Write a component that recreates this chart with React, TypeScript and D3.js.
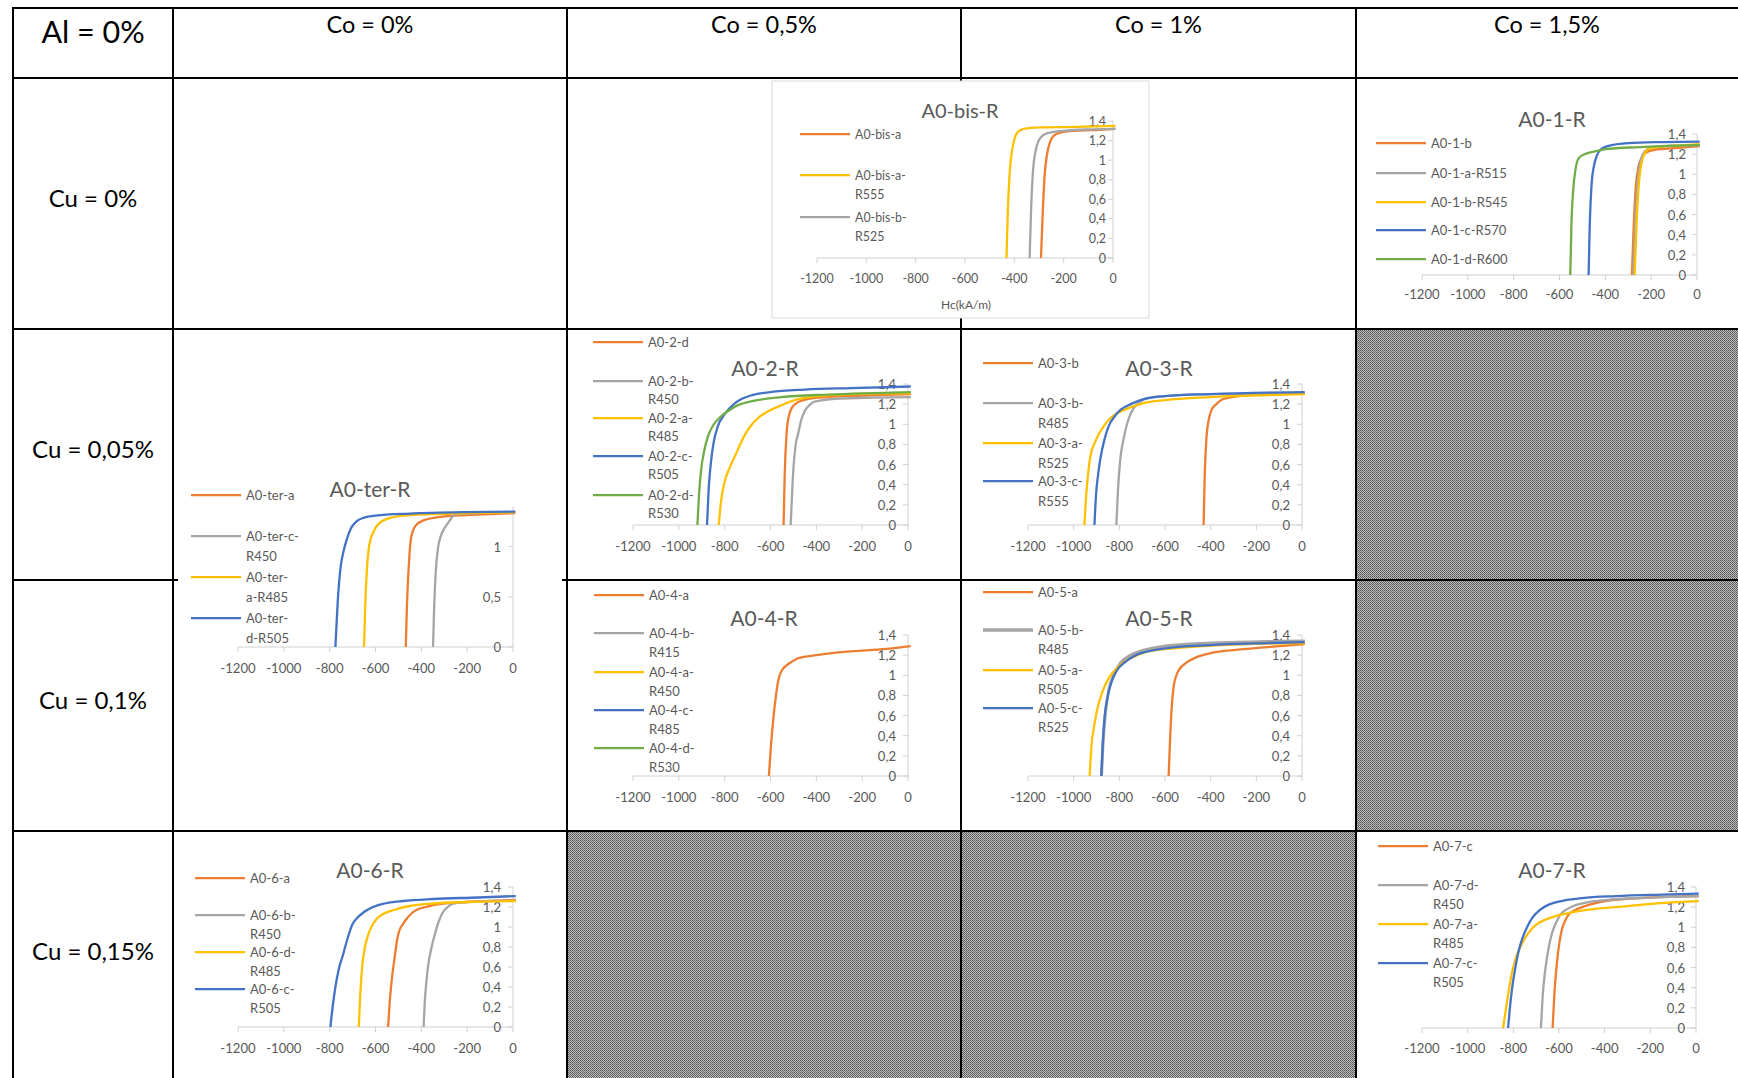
import React from 'react';
import * as d3 from 'd3';

const W = 1738, H = 1078;
const FONT = "Lato, 'Open Sans', sans-serif";

const cornerLabel = 'Al = 0%';
const colLabels = ['Co = 0%', 'Co = 0,5%', 'Co = 1%', 'Co = 1,5%'];
const rowLabels = ['Cu = 0%', 'Cu = 0,05%', 'Cu = 0,1%', 'Cu = 0,15%'];

const xTicks = [-1200, -1000, -800, -600, -400, -200, 0];
const yTicks = [0, 0.2, 0.4, 0.6, 0.8, 1, 1.2, 1.4];
const yTicksTer = [0, 0.5, 1];

// ---- A0-bis-R
const bisA = [[-292,0],[-285,0.45],[-277,0.85],[-268,1.05],[-256,1.18],[-240,1.25],[-215,1.28],[-150,1.30],[-50,1.31],[10,1.32]];
const bisAR555 = [[-432,0],[-426,0.5],[-418,0.9],[-409,1.1],[-398,1.23],[-385,1.29],[-362,1.32],[-300,1.335],[-150,1.34],[10,1.35]];
const bisBR525 = [[-338,0],[-332,0.5],[-324,0.9],[-315,1.08],[-303,1.19],[-285,1.25],[-260,1.28],[-200,1.30],[-80,1.315],[10,1.32]];
const legendBis = [['A0-bis-a'], ['A0-bis-a-', 'R555'], ['A0-bis-b-', 'R525']];

// ---- A0-1-R
const a1b = [[-284,0],[-276,0.5],[-266,0.9],[-255,1.08],[-240,1.17],[-220,1.22],[-180,1.245],[-100,1.26],[12,1.28]];
const a1aR515 = [[-278,0],[-270,0.5],[-260,0.9],[-249,1.1],[-236,1.2],[-215,1.25],[-170,1.27],[-80,1.285],[12,1.29]];
const a1bR545 = [[-272,0],[-264,0.5],[-254,0.9],[-243,1.1],[-230,1.2],[-212,1.25],[-170,1.27],[-80,1.285],[12,1.3]];
const a1cR570 = [[-473,0],[-468,0.5],[-460,0.9],[-450,1.08],[-436,1.19],[-418,1.25],[-390,1.28],[-300,1.31],[-150,1.32],[12,1.325]];
const a1dR600 = [[-553,0],[-548,0.5],[-540,0.85],[-530,1.05],[-516,1.16],[-490,1.2],[-440,1.23],[-400,1.25],[-250,1.27],[-100,1.285],[12,1.29]];
const legend1 = [['A0-1-b'], ['A0-1-a-R515'], ['A0-1-b-R545'], ['A0-1-c-R570'], ['A0-1-d-R600']];

// ---- A0-ter-R
const terA = [[-468,0],[-463,0.4],[-455,0.8],[-447,1.05],[-438,1.15],[-425,1.21],[-393,1.26],[-305,1.30],[-200,1.315],[-100,1.325],[10,1.335]];
const terCR450 = [[-349,0],[-344,0.4],[-337,0.75],[-327,0.99],[-316,1.1],[-305,1.16],[-276,1.26],[-255,1.32],[-150,1.335],[10,1.345]];
const terAR485 = [[-650,0],[-645,0.4],[-638,0.75],[-626,1.03],[-604,1.17],[-567,1.26],[-480,1.31],[-350,1.325],[-200,1.335],[10,1.345]];
const terDR505 = [[-775,0],[-765,0.45],[-752,0.8],[-740,0.95],[-727,1.06],[-708,1.18],[-684,1.25],[-650,1.29],[-600,1.31],[-450,1.33],[-200,1.345],[10,1.35]];
const legendTer = [['A0-ter-a'], ['A0-ter-c-', 'R450'], ['A0-ter-', 'a-R485'], ['A0-ter-', 'd-R505']];

// ---- A0-2-R
const a2d = [[-543,0],[-538,0.5],[-530,0.9],[-520,1.08],[-505,1.17],[-480,1.22],[-440,1.25],[-350,1.27],[-200,1.285],[12,1.3]];
const a2bR450 = [[-512,0],[-503,0.45],[-490,0.8],[-480,0.9],[-465,1.05],[-451,1.13],[-430,1.19],[-407,1.225],[-300,1.255],[-150,1.265],[12,1.27]];
const a2aR485 = [[-826,0],[-815,0.25],[-800,0.43],[-778,0.57],[-756,0.68],[-713,0.89],[-684,0.99],[-655,1.06],[-610,1.13],[-567,1.175],[-480,1.25],[-335,1.29],[-150,1.305],[12,1.31]];
const a2cR505 = [[-877,0],[-870,0.35],[-860,0.62],[-848,0.82],[-830,0.98],[-800,1.1],[-760,1.2],[-727,1.25],[-680,1.29],[-600,1.32],[-450,1.345],[-250,1.36],[12,1.375]];
const a2dR530 = [[-919,0],[-912,0.3],[-902,0.56],[-888,0.75],[-873,0.88],[-850,0.99],[-815,1.08],[-780,1.14],[-742,1.19],[-680,1.23],[-553,1.27],[-350,1.295],[-150,1.31],[12,1.32]];
const legend2 = [['A0-2-d'], ['A0-2-b-', 'R450'], ['A0-2-a-', 'R485'], ['A0-2-c-', 'R505'], ['A0-2-d-', 'R530']];

// ---- A0-3-R
const a3b = [[-431,0],[-426,0.5],[-418,0.88],[-408,1.05],[-395,1.15],[-380,1.19],[-355,1.24],[-328,1.26],[-250,1.285],[-120,1.3],[12,1.31]];
const a3bR485 = [[-813,0],[-806,0.35],[-796,0.65],[-781,0.86],[-760,1.05],[-737,1.16],[-710,1.22],[-679,1.26],[-600,1.28],[-400,1.3],[-150,1.305],[12,1.31]];
const a3aR525 = [[-953,0],[-945,0.3],[-935,0.55],[-927,0.68],[-905,0.83],[-869,0.98],[-840,1.06],[-810,1.11],[-760,1.16],[-693,1.21],[-600,1.24],[-400,1.27],[-150,1.29],[12,1.30]];
const a3cR555 = [[-909,0],[-902,0.3],[-893,0.5],[-883,0.66],[-865,0.85],[-847,0.98],[-820,1.08],[-796,1.14],[-750,1.2],[-693,1.25],[-600,1.28],[-400,1.3],[-150,1.315],[12,1.32]];
const legend3 = [['A0-3-b'], ['A0-3-b-', 'R485'], ['A0-3-a-', 'R525'], ['A0-3-c-', 'R555']];

// ---- A0-4-R
const a4a = [[-607,0],[-598,0.3],[-588,0.56],[-576,0.8],[-566,0.95],[-550,1.05],[-529,1.1],[-500,1.145],[-478,1.17],[-400,1.2],[-332,1.22],[-200,1.245],[-80,1.265],[12,1.29]];
const a4bR415: number[][] = [];
const a4aR450: number[][] = [];
const a4cR485: number[][] = [];
const a4dR530: number[][] = [];
const legend4 = [['A0-4-a'], ['A0-4-b-', 'R415'], ['A0-4-a-', 'R450'], ['A0-4-c-', 'R485'], ['A0-4-d-', 'R530']];

// ---- A0-5-R
const a5a = [[-584,0],[-578,0.35],[-570,0.7],[-562,0.89],[-550,1.0],[-540,1.05],[-515,1.11],[-489,1.15],[-450,1.19],[-401,1.22],[-300,1.25],[-150,1.28],[12,1.31]];
const a5bR485 = [[-878,0],[-872,0.3],[-862,0.6],[-847,0.85],[-825,1.0],[-796,1.12],[-750,1.2],[-693,1.25],[-600,1.29],[-400,1.32],[-150,1.335],[12,1.34]];
const a5aR505 = [[-930,0],[-922,0.3],[-910,0.5],[-898,0.65],[-875,0.83],[-847,0.97],[-815,1.06],[-781,1.13],[-730,1.19],[-679,1.235],[-550,1.27],[-350,1.3],[-150,1.315],[12,1.32]];
const a5cR525 = [[-879,0],[-873,0.3],[-864,0.6],[-854,0.755],[-835,0.93],[-810,1.05],[-775,1.13],[-737,1.19],[-680,1.235],[-591,1.27],[-400,1.3],[-150,1.32],[12,1.33]];
const legend5 = [['A0-5-a'], ['A0-5-b-', 'R485'], ['A0-5-a-', 'R505'], ['A0-5-c-', 'R525']];

// ---- A0-6-R
const a6a = [[-545,0],[-538,0.25],[-530,0.45],[-515,0.72],[-505,0.88],[-495,0.97],[-480,1.03],[-465,1.08],[-440,1.14],[-422,1.17],[-380,1.2],[-335,1.225],[-200,1.25],[12,1.27]];
const a6bR450 = [[-390,0],[-385,0.25],[-378,0.45],[-371,0.6],[-355,0.8],[-342,0.92],[-325,1.05],[-305,1.15],[-285,1.2],[-262,1.235],[-200,1.25],[-100,1.26],[12,1.265]];
const a6dR485 = [[-673,0],[-667,0.3],[-660,0.55],[-652,0.72],[-635,0.9],[-618,1.0],[-595,1.08],[-567,1.13],[-520,1.17],[-451,1.21],[-350,1.235],[-200,1.25],[12,1.26]];
const a6cR505 = [[-797,0],[-787,0.2],[-775,0.4],[-760,0.58],[-742,0.72],[-720,0.9],[-700,1.03],[-684,1.08],[-650,1.15],[-611,1.2],[-560,1.235],[-480,1.26],[-350,1.28],[-150,1.295],[12,1.31]];
const legend6 = [['A0-6-a'], ['A0-6-b-', 'R450'], ['A0-6-d-', 'R485'], ['A0-6-c-', 'R505']];

// ---- A0-7-R
const a7c = [[-628,0],[-620,0.35],[-609,0.65],[-598,0.85],[-587,0.98],[-572,1.07],[-558,1.125],[-530,1.17],[-499,1.2],[-450,1.235],[-397,1.26],[-250,1.29],[-100,1.305],[12,1.31]];
const a7dR450 = [[-679,0],[-672,0.3],[-660,0.58],[-645,0.8],[-631,0.94],[-612,1.05],[-594,1.125],[-565,1.18],[-528,1.22],[-470,1.25],[-397,1.27],[-200,1.295],[12,1.31]];
const a7aR485 = [[-845,0],[-835,0.15],[-820,0.37],[-806,0.55],[-785,0.72],[-762,0.84],[-735,0.94],[-704,1.02],[-660,1.075],[-616,1.11],[-550,1.145],[-470,1.175],[-300,1.21],[-150,1.24],[12,1.26]];
const a7cR505 = [[-823,0],[-815,0.2],[-805,0.4],[-791,0.6],[-776,0.77],[-762,0.88],[-740,1.0],[-718,1.09],[-685,1.17],[-645,1.225],[-590,1.26],[-499,1.29],[-350,1.31],[-150,1.325],[12,1.335]];
const legend7 = [['A0-7-c'], ['A0-7-d-', 'R450'], ['A0-7-a-', 'R485'], ['A0-7-c-', 'R505']];

const ORANGE = '#ED7D31', GRAY = '#A5A5A5', YELLOW = '#FFC000', BLUE = '#4472C4', GREEN = '#70AD47';
const C5 = [ORANGE, GRAY, YELLOW, BLUE, GREEN];
const TXT = '#595959';
const AXIS = '#D0D0D0';

const charts = [
  { title: 'A0-bis-R', series: [bisA, bisAR555, bisBR525], colors: [ORANGE, YELLOW, GRAY], legend: legendBis,
    x0: 817, x1: 1113, yB: 258, yT: 121, ticks: yTicks, tx: 960, ty: 110, lx: 800, ly: [134, 175, 217], lh: 19.5,
    xly: 278, gap: 7, box: [772, 81, 1149, 318], axisTitle: 'Hc(kA/m)', atY: 304, fs: 1 },
  { title: 'A0-1-R', series: [a1b, a1aR515, a1bR545, a1cR570, a1dR600], colors: C5, legend: legend1,
    x0: 1422, x1: 1697, yB: 275, yT: 134, ticks: yTicks, tx: 1552, ty: 118, lx: 1376, ly: [143, 173, 202, 230, 259], lh: 19,
    xly: 294, gap: 11, fs: 1.05 },
  { title: 'A0-ter-R', series: [terA, terCR450, terAR485, terDR505], colors: C5, legend: legendTer,
    x0: 238, x1: 513, yB: 647, yT: 506.6, ticks: yTicksTer, tx: 370, ty: 488, lx: 191, ly: [495, 536, 577, 618], lh: 20,
    xly: 668, gap: 12, bg: [178, 468, 562, 690], fs: 1.05 },
  { title: 'A0-2-R', series: [a2d, a2bR450, a2aR485, a2cR505, a2dR530], colors: C5, legend: legend2,
    x0: 633, x1: 908, yB: 525, yT: 384, ticks: yTicks, tx: 765, ty: 367, lx: 593, ly: [342, 381, 418, 456, 495], lh: 18,
    xly: 546, gap: 12, fs: 1.05 },
  { title: 'A0-3-R', series: [a3b, a3bR485, a3aR525, a3cR555], colors: C5, legend: legend3,
    x0: 1028, x1: 1302, yB: 525, yT: 384, ticks: yTicks, tx: 1159, ty: 367, lx: 983, ly: [363, 403, 443, 481], lh: 19.5,
    xly: 546, gap: 12, fs: 1.05 },
  { title: 'A0-4-R', series: [a4a, a4bR415, a4aR450, a4cR485, a4dR530], colors: C5, legend: legend4,
    x0: 633, x1: 908, yB: 776, yT: 635, ticks: yTicks, tx: 764, ty: 617, lx: 594, ly: [595, 633, 672, 710, 748], lh: 18.5,
    xly: 797, gap: 12, fs: 1.05 },
  { title: 'A0-5-R', series: [a5a, a5bR485, a5aR505, a5cR525], colors: C5, legend: legend5, thick: 1,
    x0: 1028, x1: 1302, yB: 776, yT: 635, ticks: yTicks, tx: 1159, ty: 617, lx: 983, ly: [592, 630, 670, 708], lh: 19,
    xly: 797, gap: 12, fs: 1.05 },
  { title: 'A0-6-R', series: [a6a, a6bR450, a6dR485, a6cR505], colors: C5, legend: legend6,
    x0: 238, x1: 513, yB: 1027, yT: 887, ticks: yTicks, tx: 370, ty: 869, lx: 195, ly: [878, 915, 952, 989], lh: 18.5,
    xly: 1048, gap: 12, fs: 1.05 },
  { title: 'A0-7-R', series: [a7c, a7dR450, a7aR485, a7cR505], colors: C5, legend: legend7,
    x0: 1422, x1: 1696, yB: 1028, yT: 887, ticks: yTicks, tx: 1552, ty: 869, lx: 1378, ly: [846, 885, 924, 963], lh: 19,
    xly: 1048, gap: 11, fs: 1.05 },
];

const fmt = (v: number) => String(v).replace('.', ',');

function Chart({ c }: { c: any }) {
  const x = d3.scaleLinear().domain([-1200, 0]).range([c.x0, c.x1]);
  const y = d3.scaleLinear().domain([0, 1.4]).range([c.yB, c.yT]);
  const line = d3.line<number[]>().x(d => x(d[0])).y(d => y(d[1])).curve(d3.curveMonotoneX);
  const fs = c.fs || 1;
  return (
    <g>
      {c.bg && <rect x={c.bg[0]} y={c.bg[1]} width={c.bg[2] - c.bg[0]} height={c.bg[3] - c.bg[1]} fill="#fff" />}
      {c.box && <rect x={c.box[0]} y={c.box[1]} width={c.box[2] - c.box[0]} height={c.box[3] - c.box[1]} fill="#fff" stroke="#D9D9D9" strokeWidth={1} />}
      <text x={c.tx} y={c.ty} textAnchor="middle" dominantBaseline="central" fontFamily={FONT} fontSize={20 * fs} fill={TXT}>{c.title}</text>
      <line x1={c.x0} x2={c.x1} y1={c.yB} y2={c.yB} stroke={AXIS} strokeWidth={1} />
      <line x1={c.x1} x2={c.x1} y1={c.yB} y2={y(1.4)} stroke={AXIS} strokeWidth={1} />
      {xTicks.map(t => (
        <g key={'x' + t}>
          <line x1={x(t)} x2={x(t)} y1={c.yB} y2={c.yB + 5} stroke={AXIS} />
          <text x={x(t)} y={c.xly} textAnchor="middle" dominantBaseline="central" fontFamily={FONT} fontSize={12.5 * fs} fill={TXT}>{fmt(t)}</text>
        </g>
      ))}
      {c.ticks.map((t: number) => (
        <g key={'y' + t}>
          <line x1={c.x1 - 5} x2={c.x1} y1={y(t)} y2={y(t)} stroke={AXIS} />
          <text x={c.x1 - c.gap} y={y(t)} textAnchor="end" dominantBaseline="central" fontFamily={FONT} fontSize={12.5 * fs} fill={TXT}>{fmt(t)}</text>
        </g>
      ))}
      {c.axisTitle && <text x={(c.x0 + c.x1) / 2 + 1} y={c.atY} textAnchor="middle" dominantBaseline="central" fontFamily={FONT} fontSize={12} fill={TXT}>{c.axisTitle}</text>}
      {c.series.map((s: number[][], i: number) => s.length ? (
        <path key={'s' + i} d={line(s) || ''} fill="none" stroke={c.colors[i]} strokeWidth={c.thick === i ? 3 : 2.3} strokeLinejoin="round" />
      ) : null)}
      {c.legend.map((lines: string[], i: number) => (
        <g key={'l' + i}>
          <line x1={c.lx} x2={c.lx + 50} y1={c.ly[i]} y2={c.ly[i]} stroke={c.colors[i]} strokeWidth={c.thick === i ? 3.5 : 2.25} />
          {lines.map((t, j) => (
            <text key={j} x={c.lx + 55} y={c.ly[i] + j * c.lh} dominantBaseline="central" fontFamily={FONT} fontSize={12.4 * fs} fill={TXT}>{t}</text>
          ))}
        </g>
      ))}
    </g>
  );
}

const colX = [13, 173, 567, 961, 1356];
const rowY = [8, 78, 329, 580, 831];
const colEdges = [...colX, W];
const rowEdges = [...rowY, H + 4];

export default function App() {
  return (
    <svg width={W} height={H} style={{ position: 'absolute', left: 0, top: 0, background: '#fff' }}>
      <defs>
        <pattern id="hatch" width={2} height={2} patternUnits="userSpaceOnUse">
          <rect width={2} height={2} fill="#c0c0c0" />
          <rect width={1} height={1} fill="#505050" />
          <rect x={1} y={1} width={1} height={1} fill="#666" />
        </pattern>
      </defs>
      <rect width={W} height={H} fill="#fff" />
      <rect x={colX[4]} y={rowY[2]} width={W - colX[4]} height={rowY[4] - rowY[2]} fill="url(#hatch)" />
      <rect x={colX[2]} y={rowY[4]} width={colX[4] - colX[2]} height={H - rowY[4]} fill="url(#hatch)" />
      {rowY.map(yy => <line key={'h' + yy} x1={colX[0] - 1} x2={W} y1={yy} y2={yy} stroke="#000" strokeWidth={2} />)}
      {colX.map(xx => <line key={'v' + xx} x1={xx} x2={xx} y1={rowY[0] - 1} y2={H} stroke="#000" strokeWidth={2} />)}
      <text x={93} y={31} textAnchor="middle" dominantBaseline="central" fontFamily={FONT} fontSize={30.5} fill="#000">{cornerLabel}</text>
      {colLabels.map((t, i) => (
        <text key={t} x={(colEdges[i + 1] + colEdges[i + 2]) / 2} y={24} textAnchor="middle" dominantBaseline="central" fontFamily={FONT} fontSize={23.5} fill="#000">{t}</text>
      ))}
      {rowLabels.map((t, i) => (
        <text key={t} x={93} y={(rowEdges[i + 1] + rowEdges[i + 2]) / 2 - 6} textAnchor="middle" dominantBaseline="central" fontFamily={FONT} fontSize={24} fill="#000">{t}</text>
      ))}
      {charts.map(c => <Chart key={c.title} c={c} />)}
    </svg>
  );
}
